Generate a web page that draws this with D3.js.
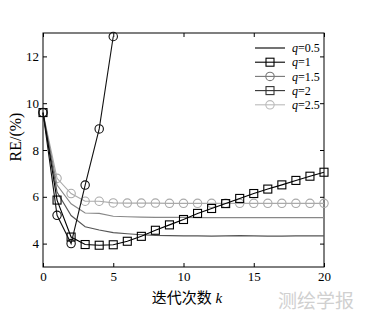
<!DOCTYPE html>
<html>
<head>
<meta charset="utf-8">
<script src="https://cdn.jsdelivr.net/npm/d3@7"></script>
<style>
  body { margin: 0; background: #fff; }
  svg { display: block; }
</style>
</head>
<body>
<div id="chart"></div>
<script>
// iteration count k
const ks = d3.range(0, 21);

// RE(%) per q
const q05 = [9.6, 6.2, 5.2, 4.72, 4.58, 4.47, 4.42, 4.38, 4.35, 4.34, 4.33, 4.33, 4.32, 4.33, 4.34, 4.33, 4.32, 4.32, 4.33, 4.33, 4.33];
const q1 = [9.6, 5.86, 4.28, 3.96, 3.93, 3.95, 4.1, 4.31, 4.57, 4.8, 5.03, 5.29, 5.5, 5.71, 5.93, 6.14, 6.33, 6.51, 6.7, 6.88, 7.05];
const q15 = [9.6, 5.21, 4.0, 6.5, 8.9, 12.85];
const q2 = [9.6, 6.5, 5.7, 5.31, 5.29, 5.17, 5.15, 5.13, 5.12, 5.12, 5.12, 5.11, 5.11, 5.11, 5.11, 5.11, 5.11, 5.11, 5.11, 5.11, 5.11];
const q25 = [9.6, 6.79, 6.14, 5.81, 5.81, 5.74, 5.73, 5.73, 5.73, 5.72, 5.72, 5.72, 5.72, 5.72, 5.72, 5.72, 5.72, 5.72, 5.72, 5.72, 5.72];

const xTicks = [0, 5, 10, 15, 20];
const yTicks = [4, 6, 8, 10, 12];

const series = [
  { label: '=0.5', values: q05, color: '#555', legendColor: '#000', marker: null, legendMarker: null },
  { label: '=1', values: q1, color: '#000', legendColor: '#000', marker: 'square', legendMarker: 'square' },
  { label: '=1.5', values: q15, color: '#111', legendColor: '#777', marker: 'circle', legendMarker: 'circle' },
  { label: '=2', values: q2, color: '#888', legendColor: '#333', marker: null, legendMarker: 'square' },
  { label: '=2.5', values: q25, color: '#aaa', legendColor: '#bbb', marker: 'circle', legendMarker: 'circle' }
];

const W = 365, H = 317;
const margin = { top: 33, right: 41, bottom: 50, left: 43 };
const width = W - margin.left - margin.right;
const height = H - margin.top - margin.bottom;

const svg = d3.select('#chart').append('svg')
  .attr('width', W)
  .attr('height', H)
  .style('font-family', '"Liberation Serif", "DejaVu Serif", serif');

const g = svg.append('g').attr('transform', `translate(${margin.left},${margin.top})`);

const x = d3.scaleLinear().domain([0, 20]).range([0, width]);
const y = d3.scaleLinear().domain([3, 13]).range([height, 0]);

// axes with inward ticks
const tickLen = 4;
g.append('g').attr('transform', `translate(0,${height})`)
  .call(d3.axisBottom(x).tickValues(xTicks).tickSizeInner(-tickLen).tickSizeOuter(0).tickPadding(5))
  .call(a => a.selectAll('text').style('font-size', '13px'));
g.append('g').attr('transform', `translate(0,0)`)
  .call(d3.axisTop(x).tickValues(xTicks).tickSizeInner(-tickLen).tickSizeOuter(0).tickFormat(''));
g.append('g')
  .call(d3.axisLeft(y).tickValues(yTicks).tickSizeInner(-tickLen).tickSizeOuter(0).tickPadding(4))
  .call(a => a.selectAll('text').style('font-size', '13px'));
g.append('g').attr('transform', `translate(${width},0)`)
  .call(d3.axisRight(y).tickValues(yTicks).tickSizeInner(-tickLen).tickSizeOuter(0).tickFormat(''));
g.selectAll('.domain').remove();
g.selectAll('.tick text').attr('fill', '#000').style('font-family', '"Liberation Serif", serif');

g.append('rect')
  .attr('width', width).attr('height', height)
  .attr('fill', 'none').attr('stroke', '#000').attr('stroke-width', 1);

const line = d3.line().x((d, i) => x(ks[i])).y(d => y(d));

function drawMarker(sel, type, cx, cy, color) {
  if (type === 'square') {
    sel.append('rect')
      .attr('x', cx - 4).attr('y', cy - 4).attr('width', 8).attr('height', 8)
      .attr('fill', 'none').attr('stroke', color).attr('stroke-width', 1.1);
  } else if (type === 'circle') {
    sel.append('circle')
      .attr('cx', cx).attr('cy', cy).attr('r', 4.2)
      .attr('fill', 'none').attr('stroke', color).attr('stroke-width', 1.1);
  }
}

// draw order: background lines first
[4, 3, 0, 1, 2].forEach(idx => {
  const s = series[idx];
  const sg = g.append('g');
  sg.append('path')
    .datum(s.values)
    .attr('d', line)
    .attr('fill', 'none')
    .attr('stroke', s.color)
    .attr('stroke-width', 1.1);
  if (s.marker) {
    s.values.forEach((v, i) => drawMarker(sg, s.marker, x(ks[i]), y(v), s.color));
  }
});

// legend
const legend = svg.append('g').attr('transform', 'translate(255,48)');
series.forEach((s, i) => {
  const row = legend.append('g').attr('transform', `translate(0,${i * 14.2})`);
  row.append('line').attr('x1', 0).attr('x2', 30).attr('y1', 0).attr('y2', 0)
    .attr('stroke', s.legendColor).attr('stroke-width', 1.1);
  drawMarker(row, s.legendMarker, 15, 0, s.legendColor);
  const t = row.append('text').attr('x', 37).attr('y', 4.2)
    .style('font-size', '12px').attr('fill', '#000');
  t.append('tspan').style('font-style', 'italic').text('q');
  t.append('tspan').text(s.label);
});

// axis titles
const xt = svg.append('text')
  .attr('x', 187).attr('y', 303)
  .attr('text-anchor', 'middle')
  .style('font-size', '15px');
xt.append('tspan').style('font-family', '"Noto Sans CJK SC", sans-serif').text('迭代次数');
xt.append('tspan').style('font-style', 'italic').text(' k');

svg.append('text')
  .attr('transform', 'translate(21,137) rotate(-90)')
  .attr('text-anchor', 'middle')
  .style('font-size', '16px')
  .text('RE/(%)');

// watermark
svg.append('text')
  .attr('x', 316).attr('y', 308)
  .attr('text-anchor', 'middle')
  .attr('fill', '#d0d0d0')
  .style('font-family', '"Noto Sans CJK SC", sans-serif')
  .style('font-size', '19px')
  .text('测绘学报');
</script>
</body>
</html>
